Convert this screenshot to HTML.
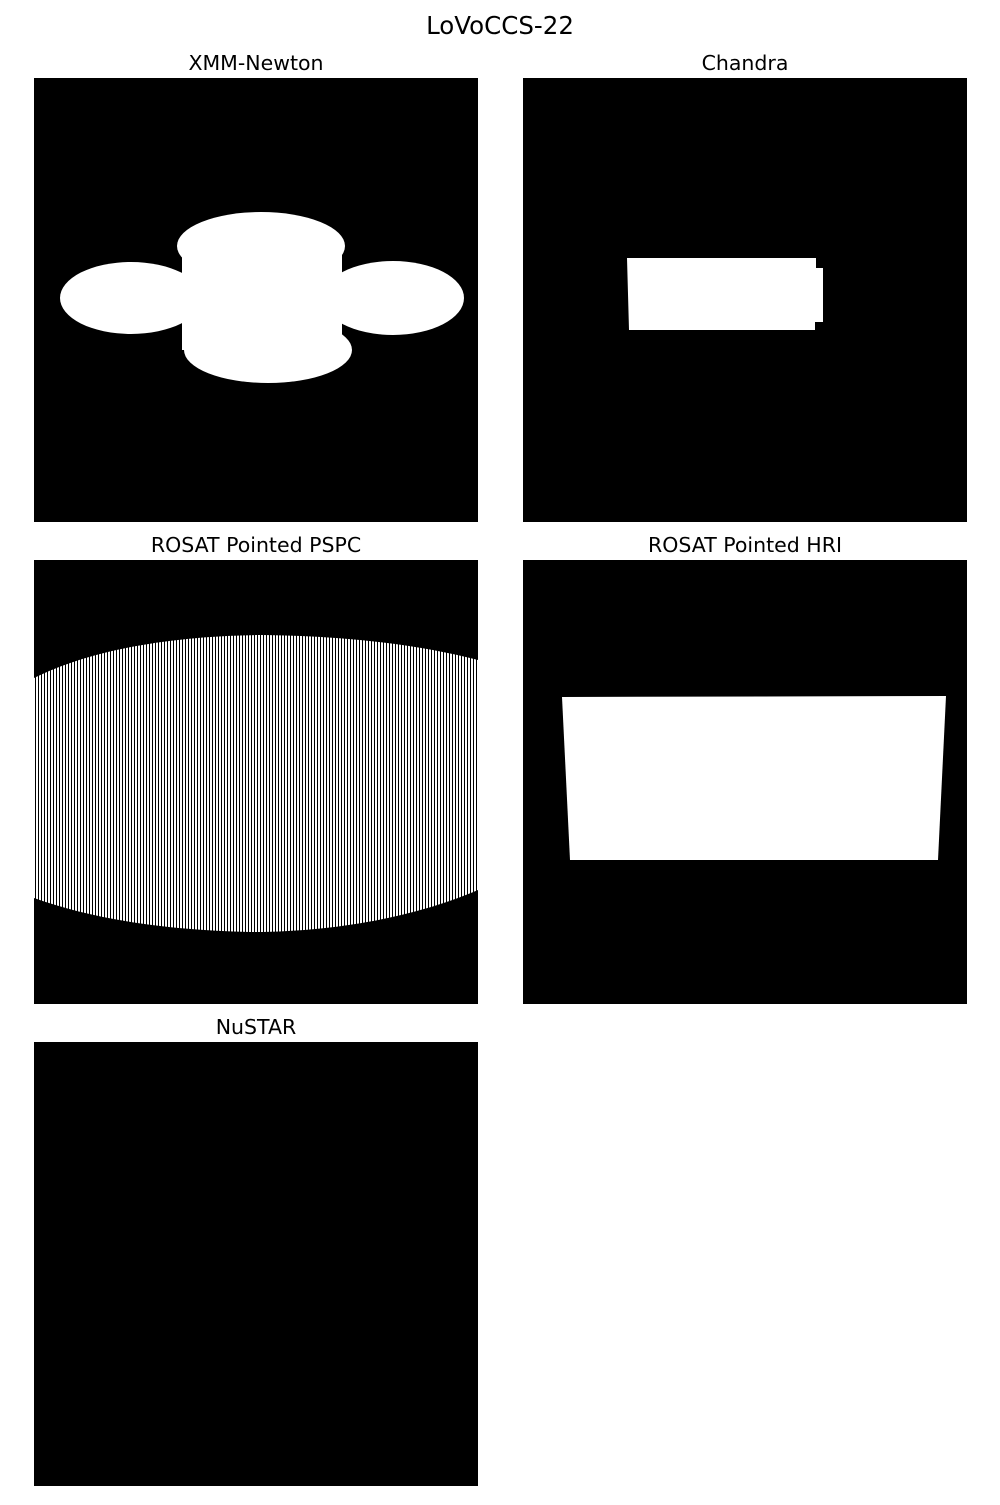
<!DOCTYPE html>
<html><head><meta charset="utf-8"><style>
body{margin:0;background:#fff;width:1000px;height:1500px;overflow:hidden;font-family:"Liberation Sans","DejaVu Sans",sans-serif}
svg text{font-family:"DejaVu Sans","Liberation Sans",sans-serif;fill:#000}
</style></head><body>
<svg width="1000" height="1500" viewBox="0 0 1000 1500">
<defs>
<pattern id="stripes" x="0" y="0" width="3" height="10" patternUnits="userSpaceOnUse">
<rect x="0" y="0" width="2" height="10" fill="#fff"/>
</pattern>
</defs>
<text x="500" y="34" font-size="24.5" text-anchor="middle">LoVoCCS-22</text>

<g>
<text x="256" y="70" font-size="20.5" text-anchor="middle">XMM-Newton</text>
<rect x="34" y="78" width="444" height="444" fill="#000"/>
<g fill="#fff">
<ellipse cx="261" cy="246" rx="84" ry="34"/>
<ellipse cx="131" cy="298" rx="71" ry="36"/>
<ellipse cx="393" cy="298" rx="71" ry="37"/>
<ellipse cx="268" cy="350" rx="84" ry="33"/>
<polygon points="190,262 200,268 330,262 340,268 335,330 320,340 200,335 190,330 185,300"/>
<rect x="182" y="240" width="160" height="110"/>
</g>
</g>

<g>
<text x="745" y="70" font-size="20.5" text-anchor="middle">Chandra</text>
<rect x="523" y="78" width="444" height="444" fill="#000"/>
<polygon points="627,258 816,258 816,268 823,268 823,322 815,322 815,330 629,330" fill="#fff"/>
</g>

<g>
<text x="256" y="552" font-size="20.5" text-anchor="middle">ROSAT Pointed PSPC</text>
<rect x="34" y="560" width="444" height="444" fill="#000"/>
<path d="M34,678 C90,650 170,636 260,635 C350,636 420,645 478,660 L478,890 C420,915 340,932 250,932 C160,930 90,918 34,898 Z" fill="url(#stripes)"/>
</g>

<g>
<text x="745" y="552" font-size="20.5" text-anchor="middle">ROSAT Pointed HRI</text>
<rect x="523" y="560" width="444" height="444" fill="#000"/>
<polygon points="562,697 946,696 938,860 570,860" fill="#fff"/>
</g>

<g>
<text x="256" y="1034" font-size="20.5" text-anchor="middle">NuSTAR</text>
<rect x="34" y="1042" width="444" height="444" fill="#000"/>
</g>
</svg>
</body></html>
